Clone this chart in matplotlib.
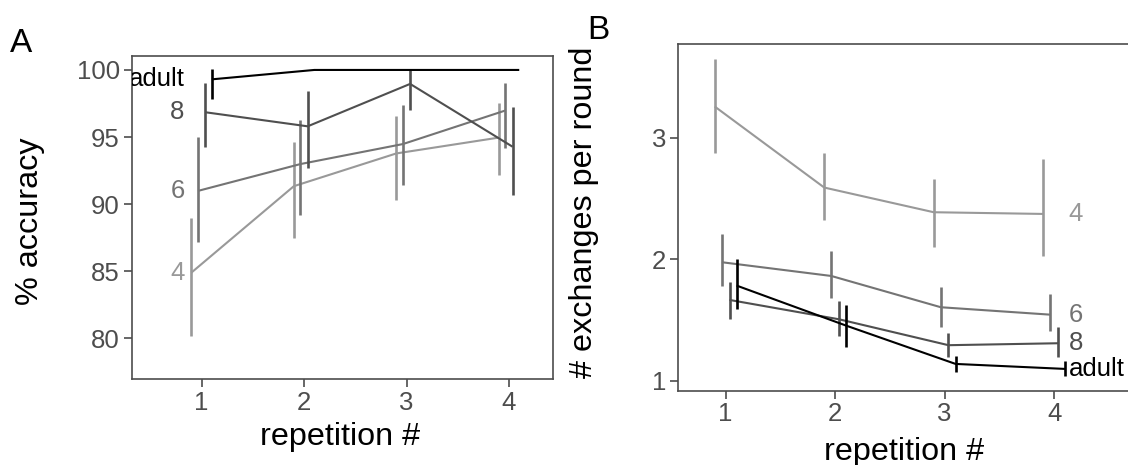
import matplotlib
matplotlib.use("Agg")
import matplotlib.pyplot as plt
import numpy as np

plt.rcParams['font.family'] = ['Liberation Sans', 'DejaVu Sans']

# data
reps = [1, 2, 3, 4]
groups = ['4', '6', '8', 'adult']
colors = ['#999999', '#747474', '#4f4f4f', '#000000']

# panel A: % accuracy (mean, lower, upper) per group
acc_mean = [[84.9, 91.34, 93.78, 94.96],
            [90.99, 92.99, 94.48, 96.98],
            [96.85, 95.8, 98.96, 94.28],
            [99.3, 100.0, 100.0, 100.0]]
acc_lo = [[80.2, 87.5, 90.3, 92.16],
          [87.2, 89.2, 91.4, 94.16],
          [94.28, 92.66, 97.0, 90.67],
          [97.8, 100.0, 100.0, 100.0]]
acc_hi = [[88.98, 94.65, 96.6, 97.56],
          [95.0, 96.3, 97.4, 99.05],
          [99.05, 98.46, 100.05, 97.26],
          [100.05, 100.0, 100.0, 100.0]]

# panel B: exchanges per round
exc_mean = [[3.256, 2.59, 2.387, 2.373],
            [1.976, 1.863, 1.606, 1.545],
            [1.666, 1.507, 1.294, 1.31],
            [1.784, 1.455, 1.14, 1.099]]
exc_lo = [[2.872, 2.324, 2.104, 2.028],
          [1.781, 1.685, 1.447, 1.411],
          [1.51, 1.37, 1.2, 1.195],
          [1.59, 1.282, 1.07, 1.04]]
exc_hi = [[3.648, 2.877, 2.659, 2.826],
          [2.209, 2.069, 1.776, 1.715],
          [1.817, 1.66, 1.397, 1.447],
          [2.0, 1.625, 1.208, 1.164]]

dodge = [-0.1, -0.035, 0.035, 0.1]
axis_grey = '#4d4d4d'

fig = plt.figure(figsize=(11.28, 4.65), dpi=100)
axA = fig.add_axes([0.1166, 0.1839, 0.3737, 0.6957])
# panel B runs past the right edge of the picture, as in the reference
axB = fig.add_axes([0.6013, 0.1598, 0.42, 0.7456])


def draw_panel(ax, mean, lo, hi):
    for i, g in enumerate(groups):
        x = np.array(reps) + dodge[i]
        ax.plot(x, mean[i], color=colors[i], lw=1.5, solid_capstyle='butt')
        ax.vlines(x, lo[i], hi[i], color=colors[i], lw=1.9)
    for s in ax.spines.values():
        s.set_color(axis_grey)
        s.set_linewidth(1.2)
    ax.tick_params(colors=axis_grey, labelcolor=axis_grey, labelsize=18.5,
                   length=5.5, width=1.2, pad=3)
    ax.set_xticks(reps)


draw_panel(axA, acc_mean, acc_lo, acc_hi)
axA.set_xlim(0.316, 4.43)
axA.set_ylim(76.94, 101.04)
axA.set_yticks([80, 85, 90, 95, 100])
for i, g in enumerate(groups):
    axA.text(0.835, acc_mean[i][0], g, color=colors[i], fontsize=18.5,
             ha='right', va='center', clip_on=True)
axA.set_ylabel('% accuracy', fontsize=23.3)
axA.yaxis.set_label_coords(-0.206, 0.49)
axA.set_xlabel('repetition #', fontsize=23.3, va='center')
axA.xaxis.set_label_coords(0.494, -0.178)

draw_panel(axB, exc_mean, exc_lo, exc_hi)
axB.set_xlim(0.567, 4.894)
axB.set_ylim(0.92, 3.77)
axB.set_yticks([1, 2, 3])
for i, g in enumerate(groups):
    axB.text(4.13, exc_mean[i][3], g, color=colors[i], fontsize=18.5,
             ha='left', va='center')
axB.set_ylabel('# exchanges per round', fontsize=23.3)
axB.yaxis.set_label_coords(-0.168, 0.515)
axB.set_xlabel('repetition #', fontsize=23.3, va='center')
axB.xaxis.set_label_coords(0.476, -0.177)

fig.text(0.009, 0.888, 'A', fontsize=24, va='baseline', ha='left')
fig.text(0.521, 0.916, 'B', fontsize=24, va='baseline', ha='left')

fig.savefig('out.png', dpi=100)
